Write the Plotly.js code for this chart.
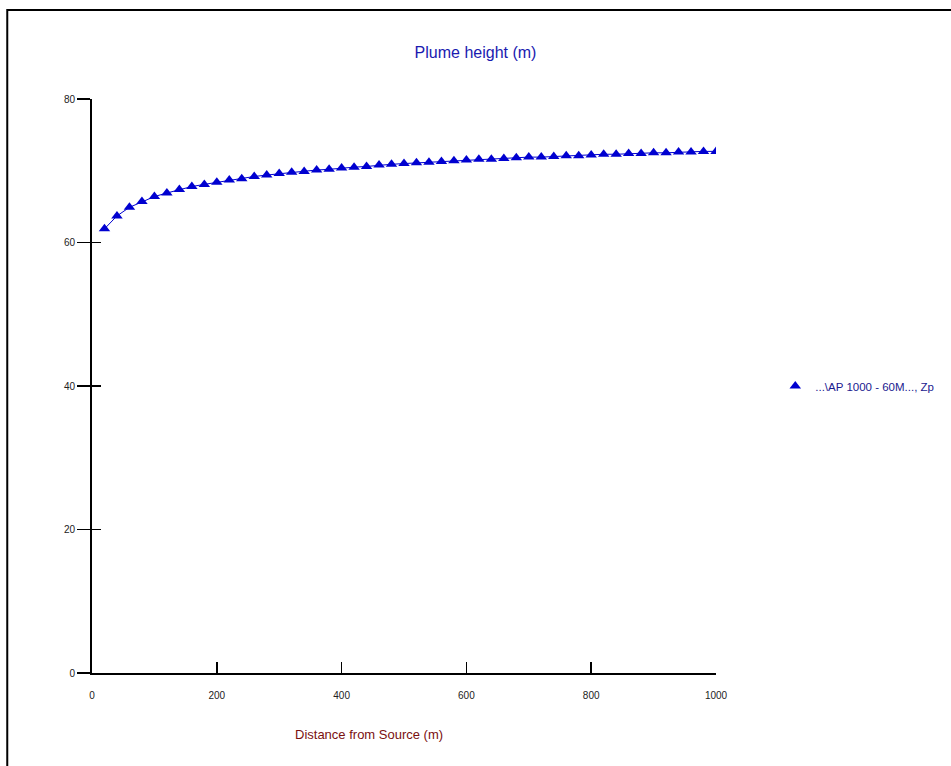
<!DOCTYPE html>
<html>
<head>
<meta charset="utf-8">
<script src="https://cdn.plot.ly/plotly-3.0.1.min.js"></script>
<style>
html,body{margin:0;padding:0;background:#fff;}
#chart{width:951px;height:766px;}
</style>
</head>
<body>
<div id="chart"></div>
<script>
// Distance from source (m)
const distance = [20,40,60,80,100,120,140,160,180,200,
  220,240,260,280,300,320,340,360,380,400,
  420,440,460,480,500,520,540,560,580,600,
  620,640,660,680,700,720,740,760,780,800,
  820,840,860,880,900,920,940,960,980,1000];
// Plume height (m)
const plumeHeight = [61.9,63.7,64.9,65.7,66.4,66.9,67.4,67.8,68.1,68.4,
  68.7,68.9,69.2,69.4,69.6,69.8,69.9,70.1,70.2,70.4,
  70.5,70.6,70.8,70.9,71.0,71.1,71.2,71.3,71.4,71.5,
  71.6,71.6,71.7,71.8,71.9,71.9,72.0,72.1,72.1,72.2,
  72.3,72.3,72.4,72.4,72.5,72.5,72.6,72.6,72.7,72.7];
const seriesName = "...\\AP 1000 - 60M..., Zp";
const xTicks = [0,200,400,600,800,1000];
const yTicks = [0,20,40,60,80];

const blue = '#0000d0';
const lineTrace = {
  x: distance, y: plumeHeight, type: 'scatter', mode: 'lines',
  line: {color: blue, width: 1}, showlegend: false, hoverinfo: 'skip'
};
const markerTrace = {
  x: distance, y: plumeHeight, name: seriesName,
  type: 'scatter', mode: 'markers',
  marker: {symbol: 'triangle-up', size: 10, color: blue}
};

const tickFont = {family: 'Liberation Sans, Arial, sans-serif', size: 10, color: '#222'};
const layout = {
  width: 951, height: 766,
  margin: {l: 92, r: 233, t: 99, b: 93},
  paper_bgcolor: '#fff', plot_bgcolor: '#fff',
  title: {text: 'Plume height (m)', x: 0.5, xref: 'container', y: 0.932, yref: 'container', yanchor: 'middle',
          font: {family: 'Liberation Sans, Arial, sans-serif', size: 16, color: '#1a1ab0'}},
  xaxis: {range: [0, 1000], tickvals: xTicks, ticktext: xTicks.map(String),
          showgrid: false, zeroline: false, showline: true, linecolor: '#000', linewidth: 2,
          ticks: 'inside', ticklen: 11, tickwidth: 1.5, tickcolor: '#000',
          ticklabelstandoff: 12, tickfont: tickFont, fixedrange: true},
  yaxis: {range: [0, 80], tickvals: yTicks, ticktext: yTicks.map(String),
          showgrid: false, zeroline: false, showline: true, linecolor: '#000', linewidth: 2,
          ticks: 'outside', ticklen: 13, tickwidth: 1.5, tickcolor: '#000',
          tickfont: tickFont, fixedrange: true},
  yaxis2: {range: [0, 80], overlaying: 'y', tickvals: yTicks, showticklabels: false,
          showgrid: false, zeroline: false, showline: false,
          ticks: 'inside', ticklen: 9, tickwidth: 1.5, tickcolor: '#000', fixedrange: true},
  showlegend: true,
  legend: {x: 1.095, y: 0.5, xanchor: 'left', yanchor: 'middle', itemwidth: 30,
           font: {family: 'Liberation Sans, Arial, sans-serif', size: 11.5, color: '#1a1a90'},
           bgcolor: 'rgba(0,0,0,0)'},
  annotations: [{
    text: 'Distance from Source (m)', xref: 'paper', yref: 'paper', x: 0.444, y: 0,
    xanchor: 'center', yanchor: 'middle', yshift: -61, showarrow: false,
    font: {family: 'Liberation Sans, Arial, sans-serif', size: 13, color: '#7a1010'}
  }],
  shapes: [{
    type: 'rect', xref: 'paper', yref: 'paper',
    x0: -0.1358, x1: 2, y0: -1, y1: 1.155,
    line: {color: '#000', width: 2}
  }]
};

const ghost = {x: [0], y: [0], yaxis: 'y2', mode: 'markers', marker: {opacity: 0}, showlegend: false, hoverinfo: 'skip'};

Plotly.newPlot('chart', [lineTrace, markerTrace, ghost], layout, {displayModeBar: false, staticPlot: true});
</script>
</body>
</html>
